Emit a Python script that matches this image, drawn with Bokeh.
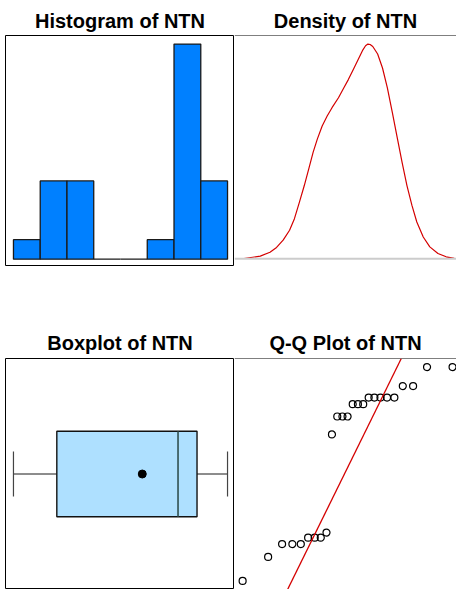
import numpy as np
from statistics import NormalDist
from bokeh.plotting import figure
from bokeh.layouts import row, column
from bokeh.models import Range1d, Slope, Span
from bokeh.embed import file_html
from bokeh.resources import INLINE

# ---------------- data ----------------
# sorted NTN sample
ntn = [20.0, 29.0, 33.8, 33.8, 33.8, 36.2, 36.2, 36.2, 38.1, 74.8,
       81.5, 81.5, 81.5, 86.1, 86.1, 86.1, 88.6, 88.6, 88.6, 88.6, 88.6,
       92.9, 92.9, 100.0, 100.0]

# histogram
hist_edges = [14, 25, 36, 47, 58, 69, 80, 91, 102]
hist_counts = [1, 4, 4, 0, 0, 1, 11, 4]

# density curve
dens_x = [-20.0, -7.6, -0.2, 4.8, 9.8, 14.7, 18.4, 22.2, 25.9, 29.6, 32.6,
          35.8, 39.5, 43.3, 47.0, 51.9, 55.7, 59.4, 63.1, 66.8, 70.5, 72.5,
          74.3, 76.0, 78.0, 81.7, 85.4, 89.1, 92.9, 96.6, 100.3, 104.0,
          107.8, 111.5, 116.4, 121.4, 127.6, 133.8, 140.0]
dens_y = [0.00002, 0.00019, 0.00047, 0.00081, 0.00133, 0.00204, 0.00287,
          0.00405, 0.00524, 0.00654, 0.00761, 0.00856, 0.00950, 0.01021,
          0.01081, 0.01152, 0.01218, 0.01282, 0.01353, 0.01424, 0.01495,
          0.01524, 0.01536, 0.01533, 0.01519, 0.01465, 0.01365, 0.01223,
          0.01045, 0.00867, 0.00690, 0.00524, 0.00382, 0.00263, 0.00156,
          0.00085, 0.00038, 0.00014, 0.00003]

# ---------------- styling / layout ----------------
LEFT_PAD = 5
W_L, W_R = 229, 222
FH = 231
TOP1, TOP2 = 35, 92
TITLE_FONT = "Liberation Sans"
BAR_BLUE = "#0080FF"
BOX_BLUE = "#AEE0FF"
RED = "#D40000"


def make_fig(title, width, top, x_range, y_range, right=False, standoff=6):
    p = figure(width=width + (0 if right else LEFT_PAD), height=top + FH,
               x_range=x_range, y_range=y_range,
               x_axis_type=None, y_axis_type=None, toolbar_location=None,
               output_backend="svg",
               min_border_left=0 if right else LEFT_PAD, min_border_right=0,
               min_border_bottom=0, min_border_top=top,
               background_fill_color="white", border_fill_color="white")
    p.title.text = title
    p.title.text_font = TITLE_FONT
    p.title.text_font_size = "20px"
    p.title.text_font_style = "bold"
    p.title.text_color = "#000000"
    p.title.align = "center"
    p.title.standoff = standoff
    if right:
        p.title.offset = 3
        p.outline_line_color = None
        p.add_layout(Span(location=y_range.start, dimension="width",
                          line_color="black", line_width=1))
        p.add_layout(Span(location=y_range.end, dimension="width",
                          line_color="black", line_width=1))
    else:
        p.outline_line_color = "black"
        p.outline_line_width = 1
    p.grid.visible = False
    return p


# ---- Histogram ----
span_h = hist_edges[-1] - hist_edges[0]
fs_h = span_h * 230 / 215
ymax_h = max(hist_counts)
p1 = make_fig("Histogram of NTN", W_L, TOP1,
              Range1d(hist_edges[0] - fs_h * 8 / 230, hist_edges[-1] + fs_h * 7 / 230),
              Range1d(-0.034 * ymax_h, 1.04 * ymax_h), standoff=7)
p1.quad(left=hist_edges[:-1], right=hist_edges[1:], bottom=0, top=hist_counts,
        fill_color=BAR_BLUE, line_color="#1a1a1a", line_width=1.3)

# ---- Density ----
dmax = max(dens_y)
dspan = max(dens_x) - min(dens_x)
p2 = make_fig("Density of NTN", W_R, TOP1,
              Range1d(min(dens_x) - 0.045 * dspan, max(dens_x) + 0.0106 * dspan),
              Range1d(-0.036 * dmax, 1.04 * dmax), right=True, standoff=7)
p2.add_layout(Span(location=0, dimension="width", line_color="#cccccc",
                   line_width=2))
p2.line(dens_x, dens_y, line_color=RED, line_width=1.2)

# ---- Boxplot ----
arr = np.array(ntn)
q1, med, q3 = np.percentile(arr, [25, 50, 75])
iqr = q3 - q1
lo_w = arr[arr >= q1 - 1.5 * iqr].min()
hi_w = arr[arr <= q3 + 1.5 * iqr].max()
mean = arr.mean()
span_b = arr.max() - arr.min()
fs_b = span_b * 230 / 215
p3 = make_fig("Boxplot of NTN", W_L, TOP2,
              Range1d(arr.min() - fs_b * 8 / 230, arr.max() + fs_b * 7 / 230),
              Range1d(0, 1), standoff=9)
yc = 0.5
p3.segment(x0=[lo_w, q3], y0=[yc, yc], x1=[q1, hi_w], y1=[yc, yc],
           line_color="#1a1a1a", line_width=1)
p3.segment(x0=[lo_w, hi_w], y0=[yc - 0.097, yc - 0.097],
           x1=[lo_w, hi_w], y1=[yc + 0.097, yc + 0.097],
           line_color="#444444", line_width=1.2)
p3.quad(left=[q1], right=[q3], bottom=[yc - 0.185], top=[yc + 0.185],
        fill_color=BOX_BLUE, line_color="#111111", line_width=1.4)
p3.segment(x0=[med], y0=[yc - 0.185], x1=[med], y1=[yc + 0.185],
           line_color="#2F4F4F", line_width=1.6)
p3.scatter(x=[mean], y=[yc], size=8, marker="circle", fill_color="black",
           line_color="black")

# ---- Q-Q plot ----
n = len(ntn)
nd = NormalDist()
theo = [nd.inv_cdf((i - 0.5) / n) for i in range(1, n + 1)]
tq = max(theo)
ys = sorted(ntn)
z25, z75 = nd.inv_cdf(0.25), nd.inv_cdf(0.75)
slope = (q3 - q1) / (z75 - z25)
intercept = q1 - slope * z25
span_q = max(ys) - min(ys)
p4 = make_fig("Q-Q Plot of NTN", W_R, TOP2,
              Range1d(-tq * 1.0774, tq * 1.0375),
              Range1d(min(ys) - 0.04 * span_q, max(ys) + 0.04 * span_q),
              right=True, standoff=9)
p4.add_layout(Slope(gradient=slope, y_intercept=intercept, line_color=RED,
                    line_width=1.3))
p4.scatter(x=theo, y=ys, marker="circle", size=7, fill_color=None,
           line_color="black", line_width=1.2)

layout = column(row(p1, p2), row(p3, p4))
open("out.html", "w").write(file_html(layout, INLINE))
